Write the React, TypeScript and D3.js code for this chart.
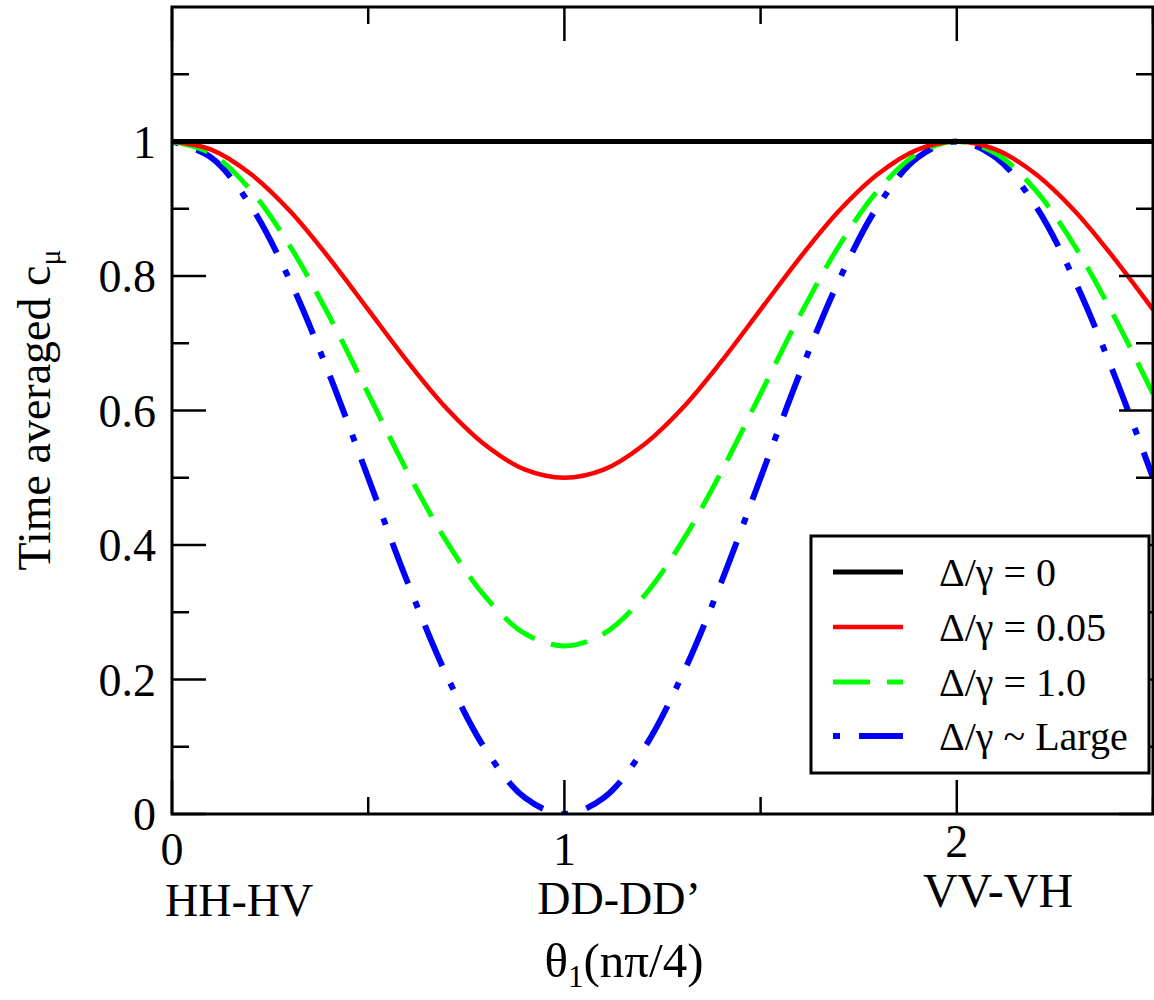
import React from "react";
import * as d3 from "d3";

const thetaValues = [0, 0.1, 0.2, 0.3, 0.4, 0.5, 0.6, 0.7, 0.8, 0.9, 1.0, 1.1, 1.2, 1.3, 1.4, 1.5, 1.6, 1.7, 1.8, 1.9, 2.0, 2.1, 2.2, 2.3, 2.4, 2.5];
const seriesZero = [1, 1, 1, 1, 1, 1, 1, 1, 1, 1, 1, 1, 1, 1, 1, 1, 1, 1, 1, 1, 1, 1, 1, 1, 1, 1];
const seriesSmall = [1, 0.988, 0.952, 0.897, 0.827, 0.75, 0.673, 0.603, 0.548, 0.512, 0.5, 0.512, 0.548, 0.603, 0.673, 0.75, 0.827, 0.897, 0.952, 0.988, 1, 0.988, 0.952, 0.897, 0.827, 0.75];
const seriesOne = [1, 0.982, 0.928, 0.845, 0.741, 0.625, 0.509, 0.405, 0.322, 0.268, 0.25, 0.268, 0.322, 0.405, 0.509, 0.625, 0.741, 0.845, 0.928, 0.982, 1, 0.982, 0.928, 0.845, 0.741, 0.625];
const seriesLarge = [1, 0.976, 0.905, 0.794, 0.655, 0.5, 0.345, 0.206, 0.095, 0.024, 0, 0.024, 0.095, 0.206, 0.345, 0.5, 0.655, 0.794, 0.905, 0.976, 1, 0.976, 0.905, 0.794, 0.655, 0.5];

const legendLabels = ["Δ/γ = 0", "Δ/γ = 0.05", "Δ/γ = 1.0", "Δ/γ ~ Large"];
const xMajorTicks = [0, 1, 2];
const xMinorTicks = [0.5, 1.5, 2.5];
const xTickNames = ["HH-HV", "DD-DD’", "VV-VH"];
const yMajorTicks = [0, 0.2, 0.4, 0.6, 0.8, 1.0];
const yMinorTicks = [0.1, 0.3, 0.5, 0.7, 0.9, 1.1];

const styles = [
  { color: "#000000", width: 5, dash: "none" },
  { color: "#ff0000", width: 4.5, dash: "none" },
  { color: "#00ff00", width: 5, dash: "37,17" },
  { color: "#0000ff", width: 6, dash: "7,19,44,19" },
];

const FONT = "Liberation Serif, Tinos, Times New Roman, Times, DejaVu Serif, serif";

export default function App() {
  const L = 172, R = 1153, T = 7, B = 814;
  const x = d3.scaleLinear().domain([0, 2.5]).range([L, R]);
  const y = d3.scaleLinear().domain([0, 1.2]).range([B, T]);
  const allSeries = [seriesZero, seriesSmall, seriesOne, seriesLarge];
  const line = d3
    .line<number>()
    .x((_, i) => x(thetaValues[i]))
    .y((d) => y(d))
    .curve(d3.curveCatmullRom.alpha(0.5));

  const majorLen = 34, minorLen = 17;
  const legendRows = [572, 627, 682, 736];
  const txt = { fontFamily: FONT };

  return (
    <svg width={1154} height={1000} style={{ position: "absolute", left: 0, top: 0, background: "#fff" }}>
      <rect x={0} y={0} width={1154} height={1000} fill="#fff" />
      <defs>
        <clipPath id="plotclip">
          <rect x={L} y={T} width={R - L} height={B - T} />
        </clipPath>
      </defs>
      <g clipPath="url(#plotclip)">
        {[3, 2, 1, 0].map((k) => (
          <path
            key={k}
            d={line(allSeries[k]) || ""}
            fill="none"
            stroke={styles[k].color}
            strokeWidth={styles[k].width}
            strokeDasharray={styles[k].dash}
          />
        ))}
      </g>
      <g stroke="#000" strokeWidth={2.5}>
        {xMajorTicks.map((t) => (
          <g key={"xm" + t}>
            <line x1={x(t)} x2={x(t)} y1={B} y2={B - majorLen} />
            <line x1={x(t)} x2={x(t)} y1={T} y2={T + majorLen} />
          </g>
        ))}
        {xMinorTicks.map((t) => (
          <g key={"xn" + t}>
            <line x1={x(t)} x2={x(t)} y1={B} y2={B - minorLen} />
            <line x1={x(t)} x2={x(t)} y1={T} y2={T + minorLen} />
          </g>
        ))}
        {yMajorTicks.map((t) => (
          <g key={"ym" + t}>
            <line x1={L} x2={L + majorLen} y1={y(t)} y2={y(t)} />
            <line x1={R} x2={R - majorLen} y1={y(t)} y2={y(t)} />
          </g>
        ))}
        {yMinorTicks.map((t) => (
          <g key={"yn" + t}>
            <line x1={L} x2={L + minorLen} y1={y(t)} y2={y(t)} />
            <line x1={R} x2={R - minorLen} y1={y(t)} y2={y(t)} />
          </g>
        ))}
      </g>
      <rect x={L} y={T} width={R - L} height={B - T} fill="none" stroke="#000" strokeWidth={3} />
      <g style={txt} fontSize={46} fill="#000">
        {yMajorTicks.map((t) => (
          <text key={"yl" + t} style={txt} x={156} y={y(t) + 16} textAnchor="end">
            {String(+t.toFixed(1))}
          </text>
        ))}
        {xMajorTicks.map((t) => (
          <text key={"xl" + t} style={txt} x={x(t)} y={t === 2 ? 857 : 865} textAnchor="middle">
            {t}
          </text>
        ))}
        <text style={txt} x={165} y={916} textAnchor="start">{xTickNames[0]}</text>
        <text style={txt} x={619} y={914} textAnchor="middle">{xTickNames[1]}</text>
        <text style={txt} x={998} y={907} textAnchor="middle" fontSize={48}>{xTickNames[2]}</text>
        <text style={txt} x={624} y={977} textAnchor="middle" fontSize={49}>
          θ<tspan fontSize={31} dy={10}>1</tspan>
          <tspan dy={-10}>(nπ/4)</tspan>
        </text>
        <text style={txt} transform="translate(50,410) rotate(-90)" textAnchor="middle">
          Time averaged c<tspan fontSize={30} dy={10}>μ</tspan>
        </text>
      </g>
      <rect x={811} y={536} width={338} height={237} fill="#fff" stroke="#000" strokeWidth={3} />
      {legendLabels.map((lab, i) => (
        <g key={lab}>
          <line
            x1={833}
            x2={903}
            y1={legendRows[i]}
            y2={legendRows[i]}
            stroke={styles[i].color}
            strokeWidth={styles[i].width}
            strokeDasharray={styles[i].dash}
          />
          <text style={txt} x={939} y={legendRows[i] + 14} fontSize={40} fill="#000">
            {lab}
          </text>
        </g>
      ))}
    </svg>
  );
}
